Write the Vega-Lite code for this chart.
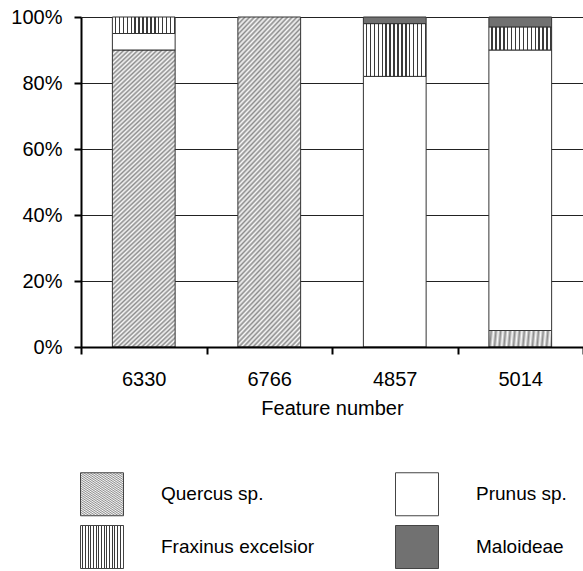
{
"$schema": "https://vega.github.io/schema/vega-lite/v6.json",
"width": 502, "height": 330,
"autosize": {"type": "none"},
"padding": {"left": 81, "top": 17, "right": 0, "bottom": 224},
"background": "white",
"config": {"view": {"stroke": null}, "font": "Liberation Sans"},
"data": {"values": [
{"feature": "6330", "species": "Quercus sp.", "pct": 90},
{"feature": "6330", "species": "Prunus sp.", "pct": 5},
{"feature": "6330", "species": "Fraxinus excelsior", "pct": 5},
{"feature": "6766", "species": "Quercus sp.", "pct": 100},
{"feature": "4857", "species": "Prunus sp.", "pct": 82},
{"feature": "4857", "species": "Fraxinus excelsior", "pct": 16},
{"feature": "4857", "species": "Maloideae", "pct": 2},
{"feature": "5014", "species": "Quercus sp.", "pct": 5},
{"feature": "5014", "species": "Prunus sp.", "pct": 85},
{"feature": "5014", "species": "Fraxinus excelsior", "pct": 7},
{"feature": "5014", "species": "Maloideae", "pct": 3}
]},
"transform": [{"window": [{"op": "row_number", "as": "rank"}], "groupby": ["feature"]}],
"mark": {"type": "bar", "stroke": "#333333", "strokeWidth": 1, "width": {"band": 0.5}},
"encoding": {
"x": {"field": "feature", "type": "nominal", "sort": null,
 "scale": {"paddingInner": 0, "paddingOuter": 0},
 "axis": {"title": "Feature number", "labelAngle": 0, "tickBand": "extent", "zindex": 1,
  "domainWidth": 2, "domainColor": "#000000", "tickColor": "#000000", "tickWidth": 2, "tickSize": 7,
  "labelFontSize": 20, "labelPadding": 15, "labelColor": "#000000", "labelFont": "Liberation Sans",
  "titleFontSize": 20, "titleFontWeight": "normal", "titlePadding": 9, "titleColor": "#000000", "titleFont": "Liberation Sans", "grid": false}},
"y": {"field": "pct", "type": "quantitative", "stack": "zero",
 "scale": {"domain": [0, 100], "nice": false},
 "axis": {"title": null, "values": [0, 20, 40, 60, 80, 100], "labelExpr": "datum.value + '%'",
  "domainWidth": 2, "domainColor": "#000000", "tickColor": "#000000", "tickWidth": 2, "tickSize": 7,
  "labelFontSize": 20, "labelPadding": 12, "labelColor": "#000000", "labelFont": "Liberation Sans",
  "grid": true, "gridColor": "#222222", "gridWidth": 1, "gridOpacity": 1}},
"order": {"field": "rank", "type": "quantitative", "sort": "ascending"},
"fill": {"field": "species", "type": "nominal",
 "scale": {"domain": ["Quercus sp.", "Prunus sp.", "Fraxinus excelsior", "Maloideae"], "range": [
  {"expr": "{gradient:'linear',x1:0,y1:0,x2:0.232,y2:1.16,stops:[{offset:0,color:'#fafafa'},{offset:0.00625,color:'#8c8c8c'},{offset:0.0125,color:'#fafafa'},{offset:0.01875,color:'#8c8c8c'},{offset:0.025,color:'#fafafa'},{offset:0.03125,color:'#8c8c8c'},{offset:0.0375,color:'#fafafa'},{offset:0.04375,color:'#8c8c8c'},{offset:0.05,color:'#fafafa'},{offset:0.05625,color:'#8c8c8c'},{offset:0.0625,color:'#fafafa'},{offset:0.06875,color:'#8c8c8c'},{offset:0.075,color:'#fafafa'},{offset:0.08125,color:'#8c8c8c'},{offset:0.0875,color:'#fafafa'},{offset:0.09375,color:'#8c8c8c'},{offset:0.1,color:'#fafafa'},{offset:0.10625,color:'#8c8c8c'},{offset:0.1125,color:'#fafafa'},{offset:0.11875,color:'#8c8c8c'},{offset:0.125,color:'#fafafa'},{offset:0.13125,color:'#8c8c8c'},{offset:0.1375,color:'#fafafa'},{offset:0.14375,color:'#8c8c8c'},{offset:0.15,color:'#fafafa'},{offset:0.15625,color:'#8c8c8c'},{offset:0.1625,color:'#fafafa'},{offset:0.16875,color:'#8c8c8c'},{offset:0.175,color:'#fafafa'},{offset:0.18125,color:'#8c8c8c'},{offset:0.1875,color:'#fafafa'},{offset:0.19375,color:'#8c8c8c'},{offset:0.2,color:'#fafafa'},{offset:0.20625,color:'#8c8c8c'},{offset:0.2125,color:'#fafafa'},{offset:0.21875,color:'#8c8c8c'},{offset:0.225,color:'#fafafa'},{offset:0.23125,color:'#8c8c8c'},{offset:0.2375,color:'#fafafa'},{offset:0.24375,color:'#8c8c8c'},{offset:0.25,color:'#fafafa'},{offset:0.25625,color:'#8c8c8c'},{offset:0.2625,color:'#fafafa'},{offset:0.26875,color:'#8c8c8c'},{offset:0.275,color:'#fafafa'},{offset:0.28125,color:'#8c8c8c'},{offset:0.2875,color:'#fafafa'},{offset:0.29375,color:'#8c8c8c'},{offset:0.3,color:'#fafafa'},{offset:0.30625,color:'#8c8c8c'},{offset:0.3125,color:'#fafafa'},{offset:0.31875,color:'#8c8c8c'},{offset:0.325,color:'#fafafa'},{offset:0.33125,color:'#8c8c8c'},{offset:0.3375,color:'#fafafa'},{offset:0.34375,color:'#8c8c8c'},{offset:0.35,color:'#fafafa'},{offset:0.35625,color:'#8c8c8c'},{offset:0.3625,color:'#fafafa'},{offset:0.36875,color:'#8c8c8c'},{offset:0.375,color:'#fafafa'},{offset:0.38125,color:'#8c8c8c'},{offset:0.3875,color:'#fafafa'},{offset:0.39375,color:'#8c8c8c'},{offset:0.4,color:'#fafafa'},{offset:0.40625,color:'#8c8c8c'},{offset:0.4125,color:'#fafafa'},{offset:0.41875,color:'#8c8c8c'},{offset:0.425,color:'#fafafa'},{offset:0.43125,color:'#8c8c8c'},{offset:0.4375,color:'#fafafa'},{offset:0.44375,color:'#8c8c8c'},{offset:0.45,color:'#fafafa'},{offset:0.45625,color:'#8c8c8c'},{offset:0.4625,color:'#fafafa'},{offset:0.46875,color:'#8c8c8c'},{offset:0.475,color:'#fafafa'},{offset:0.48125,color:'#8c8c8c'},{offset:0.4875,color:'#fafafa'},{offset:0.49375,color:'#8c8c8c'},{offset:0.5,color:'#fafafa'},{offset:0.50625,color:'#8c8c8c'},{offset:0.5125,color:'#fafafa'},{offset:0.51875,color:'#8c8c8c'},{offset:0.525,color:'#fafafa'},{offset:0.53125,color:'#8c8c8c'},{offset:0.5375,color:'#fafafa'},{offset:0.54375,color:'#8c8c8c'},{offset:0.55,color:'#fafafa'},{offset:0.55625,color:'#8c8c8c'},{offset:0.5625,color:'#fafafa'},{offset:0.56875,color:'#8c8c8c'},{offset:0.575,color:'#fafafa'},{offset:0.58125,color:'#8c8c8c'},{offset:0.5875,color:'#fafafa'},{offset:0.59375,color:'#8c8c8c'},{offset:0.6,color:'#fafafa'},{offset:0.60625,color:'#8c8c8c'},{offset:0.6125,color:'#fafafa'},{offset:0.61875,color:'#8c8c8c'},{offset:0.625,color:'#fafafa'},{offset:0.63125,color:'#8c8c8c'},{offset:0.6375,color:'#fafafa'},{offset:0.64375,color:'#8c8c8c'},{offset:0.65,color:'#fafafa'},{offset:0.65625,color:'#8c8c8c'},{offset:0.6625,color:'#fafafa'},{offset:0.66875,color:'#8c8c8c'},{offset:0.675,color:'#fafafa'},{offset:0.68125,color:'#8c8c8c'},{offset:0.6875,color:'#fafafa'},{offset:0.69375,color:'#8c8c8c'},{offset:0.7,color:'#fafafa'},{offset:0.70625,color:'#8c8c8c'},{offset:0.7125,color:'#fafafa'},{offset:0.71875,color:'#8c8c8c'},{offset:0.725,color:'#fafafa'},{offset:0.73125,color:'#8c8c8c'},{offset:0.7375,color:'#fafafa'},{offset:0.74375,color:'#8c8c8c'},{offset:0.75,color:'#fafafa'},{offset:0.75625,color:'#8c8c8c'},{offset:0.7625,color:'#fafafa'},{offset:0.76875,color:'#8c8c8c'},{offset:0.775,color:'#fafafa'},{offset:0.78125,color:'#8c8c8c'},{offset:0.7875,color:'#fafafa'},{offset:0.79375,color:'#8c8c8c'},{offset:0.8,color:'#fafafa'},{offset:0.80625,color:'#8c8c8c'},{offset:0.8125,color:'#fafafa'},{offset:0.81875,color:'#8c8c8c'},{offset:0.825,color:'#fafafa'},{offset:0.83125,color:'#8c8c8c'},{offset:0.8375,color:'#fafafa'},{offset:0.84375,color:'#8c8c8c'},{offset:0.85,color:'#fafafa'},{offset:0.85625,color:'#8c8c8c'},{offset:0.8625,color:'#fafafa'},{offset:0.86875,color:'#8c8c8c'},{offset:0.875,color:'#fafafa'},{offset:0.88125,color:'#8c8c8c'},{offset:0.8875,color:'#fafafa'},{offset:0.89375,color:'#8c8c8c'},{offset:0.9,color:'#fafafa'},{offset:0.90625,color:'#8c8c8c'},{offset:0.9125,color:'#fafafa'},{offset:0.91875,color:'#8c8c8c'},{offset:0.925,color:'#fafafa'},{offset:0.93125,color:'#8c8c8c'},{offset:0.9375,color:'#fafafa'},{offset:0.94375,color:'#8c8c8c'},{offset:0.95,color:'#fafafa'},{offset:0.95625,color:'#8c8c8c'},{offset:0.9625,color:'#fafafa'},{offset:0.96875,color:'#8c8c8c'},{offset:0.975,color:'#fafafa'},{offset:0.98125,color:'#8c8c8c'},{offset:0.9875,color:'#fafafa'},{offset:0.99375,color:'#8c8c8c'},{offset:1,color:'#fafafa'}]}"},
  "#ffffff",
  {"expr": "{gradient:'linear',x1:0,y1:0,x2:1,y2:0,stops:[{offset:0,color:'#ffffff'},{offset:0.04,color:'#ffffff'},{offset:0.04,color:'#3a3a3a'},{offset:0.0625,color:'#3a3a3a'},{offset:0.0625,color:'#ffffff'},{offset:0.1025,color:'#ffffff'},{offset:0.1025,color:'#3a3a3a'},{offset:0.125,color:'#3a3a3a'},{offset:0.125,color:'#ffffff'},{offset:0.165,color:'#ffffff'},{offset:0.165,color:'#3a3a3a'},{offset:0.1875,color:'#3a3a3a'},{offset:0.1875,color:'#ffffff'},{offset:0.2275,color:'#ffffff'},{offset:0.2275,color:'#3a3a3a'},{offset:0.25,color:'#3a3a3a'},{offset:0.25,color:'#ffffff'},{offset:0.29,color:'#ffffff'},{offset:0.29,color:'#3a3a3a'},{offset:0.3125,color:'#3a3a3a'},{offset:0.3125,color:'#ffffff'},{offset:0.3525,color:'#ffffff'},{offset:0.3525,color:'#3a3a3a'},{offset:0.375,color:'#3a3a3a'},{offset:0.375,color:'#ffffff'},{offset:0.415,color:'#ffffff'},{offset:0.415,color:'#3a3a3a'},{offset:0.4375,color:'#3a3a3a'},{offset:0.4375,color:'#ffffff'},{offset:0.4775,color:'#ffffff'},{offset:0.4775,color:'#3a3a3a'},{offset:0.5,color:'#3a3a3a'},{offset:0.5,color:'#ffffff'},{offset:0.54,color:'#ffffff'},{offset:0.54,color:'#3a3a3a'},{offset:0.5625,color:'#3a3a3a'},{offset:0.5625,color:'#ffffff'},{offset:0.6025,color:'#ffffff'},{offset:0.6025,color:'#3a3a3a'},{offset:0.625,color:'#3a3a3a'},{offset:0.625,color:'#ffffff'},{offset:0.665,color:'#ffffff'},{offset:0.665,color:'#3a3a3a'},{offset:0.6875,color:'#3a3a3a'},{offset:0.6875,color:'#ffffff'},{offset:0.7275,color:'#ffffff'},{offset:0.7275,color:'#3a3a3a'},{offset:0.75,color:'#3a3a3a'},{offset:0.75,color:'#ffffff'},{offset:0.79,color:'#ffffff'},{offset:0.79,color:'#3a3a3a'},{offset:0.8125,color:'#3a3a3a'},{offset:0.8125,color:'#ffffff'},{offset:0.8525,color:'#ffffff'},{offset:0.8525,color:'#3a3a3a'},{offset:0.875,color:'#3a3a3a'},{offset:0.875,color:'#ffffff'},{offset:0.915,color:'#ffffff'},{offset:0.915,color:'#3a3a3a'},{offset:0.9375,color:'#3a3a3a'},{offset:0.9375,color:'#ffffff'},{offset:0.9775,color:'#ffffff'},{offset:0.9775,color:'#3a3a3a'},{offset:1,color:'#3a3a3a'}]}"},
  "#717171"
 ]},
 "legend": {"title": null, "orient": "none", "legendX": -1, "legendY": 455, "columns": 2, "direction": "horizontal",
  "symbolType": "square", "symbolSize": 1849, "symbolStrokeWidth": 1, "symbolStrokeColor": "#444444",
  "labelFontSize": 19, "labelFont": "Liberation Sans", "labelColor": "#000000", "labelOffset": 37, "labelLimit": 300,
  "columnPadding": 78, "rowPadding": 5, "padding": 0}
}
}
}
